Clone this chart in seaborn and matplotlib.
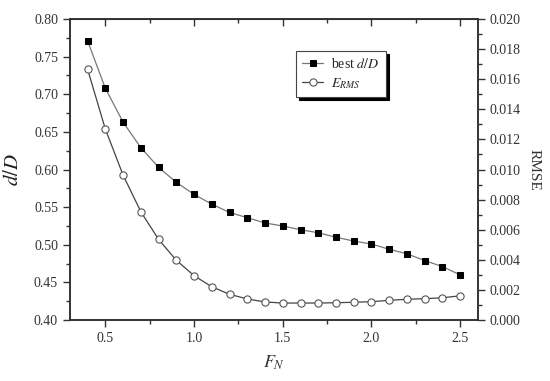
import matplotlib.pyplot as plt
import pandas as pd
import seaborn as sns
from matplotlib.ticker import MultipleLocator

# Data
fn = [0.4, 0.5, 0.6, 0.7, 0.8, 0.9, 1.0, 1.1, 1.2, 1.3, 1.4,
      1.5, 1.6, 1.7, 1.8, 1.9, 2.0, 2.1, 2.2, 2.3, 2.4, 2.5]
best_dD = [0.771, 0.708, 0.663, 0.629, 0.603, 0.583, 0.567, 0.554, 0.543, 0.536, 0.529,
           0.525, 0.520, 0.516, 0.510, 0.505, 0.501, 0.494, 0.488, 0.479, 0.471, 0.460]
rmse = [0.01666, 0.01269, 0.00963, 0.00720, 0.00536, 0.00397, 0.00295, 0.00221,
        0.00171, 0.00140, 0.00120, 0.00113, 0.00113, 0.00113, 0.00115, 0.00118,
        0.00122, 0.00131, 0.00138, 0.00142, 0.00148, 0.00161]

df = pd.DataFrame({'FN': fn, 'best': best_dD, 'rmse': rmse})

sns.set_style('ticks')
plt.rcParams['font.family'] = ['Liberation Serif', 'DejaVu Serif']
plt.rcParams['mathtext.fontset'] = 'stix'

fig = plt.figure(figsize=(5.5, 3.81), dpi=100)
ax = fig.add_axes([0.127, 0.160, 0.742, 0.790])
ax2 = ax.twinx()

sns.lineplot(data=df, x='FN', y='best', ax=ax, color='#777777', linewidth=0.9,
             marker='s', markersize=4.6, markerfacecolor='black',
             markeredgecolor='black', label='best $d/D$', legend=False)
sns.lineplot(data=df, x='FN', y='rmse', ax=ax2, color='#444444', linewidth=0.9,
             marker='o', markersize=5.2, markerfacecolor='white',
             markeredgecolor='#555555', markeredgewidth=0.8,
             label='$E_{RMS}$', legend=False)

ax.set_xlim(0.3, 2.6)
ax.set_ylim(0.40, 0.80)
ax2.set_ylim(0.0, 0.020)

ax.xaxis.set_major_locator(MultipleLocator(0.5))
ax.xaxis.set_minor_locator(MultipleLocator(0.25))
ax.yaxis.set_major_locator(MultipleLocator(0.05))
ax.yaxis.set_minor_locator(MultipleLocator(0.025))
ax2.yaxis.set_major_locator(MultipleLocator(0.002))
ax2.yaxis.set_minor_locator(MultipleLocator(0.001))

ax.xaxis.set_major_formatter(lambda v, p: f'{v:.1f}')
ax.yaxis.set_major_formatter(lambda v, p: f'{v:.2f}')
ax2.yaxis.set_major_formatter(lambda v, p: f'{v:.3f}')

ax.tick_params(axis='both', which='major', labelsize=10, length=5, width=1,
               color='#333333', labelcolor='#333333')
ax.tick_params(axis='both', which='minor', length=3, width=1, color='#333333')
ax2.tick_params(axis='y', which='major', labelsize=10, length=5, width=1,
                color='#333333', labelcolor='#333333')
ax2.tick_params(axis='y', which='minor', length=3, width=1, color='#333333')

# inward ticks on the top edge
top = ax.secondary_xaxis('top')
top.xaxis.set_major_locator(MultipleLocator(0.5))
top.xaxis.set_minor_locator(MultipleLocator(0.25))
top.tick_params(which='major', direction='in', length=5, width=1, color='#333333')
top.tick_params(which='minor', direction='in', length=3, width=1, color='#333333')
top.set_xticklabels([])

for a in (ax, ax2):
    for s in a.spines.values():
        s.set_linewidth(1.2)
        s.set_color('#333333')

ax.set_xlabel('$F_N$', fontsize=13, color='#333333', labelpad=6)
ax.set_ylabel('$d/D$', fontsize=15, color='#222222', labelpad=8)
ax2.set_ylabel('RMSE', fontsize=11, rotation=-90, labelpad=14, color='#333333')

h1, l1 = ax.get_legend_handles_labels()
h2, l2 = ax2.get_legend_handles_labels()
leg = ax2.legend(h1 + h2, l1 + l2, loc='upper left', bbox_to_anchor=(0.554, 0.894),
                 borderaxespad=0, fancybox=False, fontsize=10, handlelength=1.5,
                 handletextpad=0.6, borderpad=0.45, labelspacing=0.35,
                 frameon=True, edgecolor='#444444',
                 shadow={'color': 'black', 'alpha': 1})
leg.get_frame().set_linewidth(0.8)

fig.savefig('out.png', dpi=100)
